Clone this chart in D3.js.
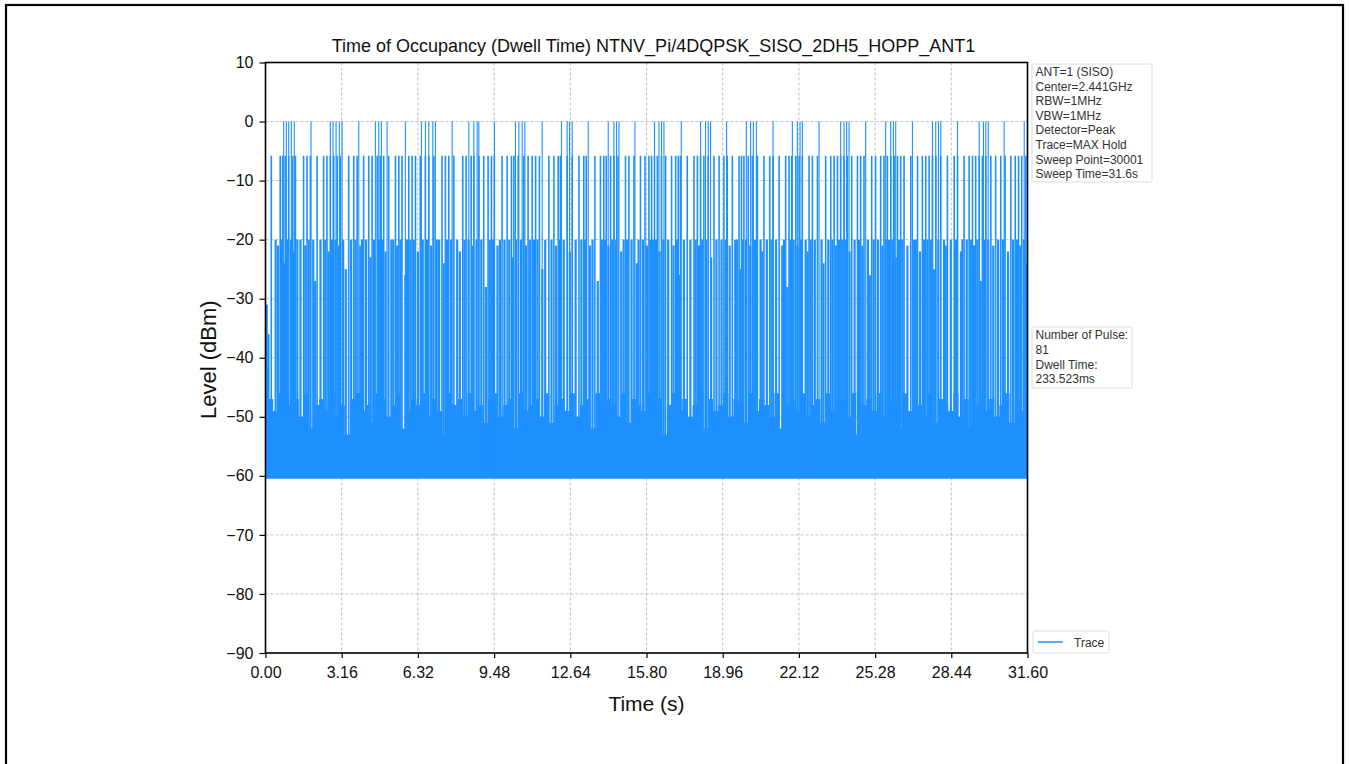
<!DOCTYPE html>
<html><head><meta charset="utf-8">
<script src="https://cdn.jsdelivr.net/npm/d3@7"></script>
<style>body{margin:0;background:#fff}svg{display:block}text{font-family:"Liberation Sans",Arial,sans-serif}</style>
</head><body>
<svg id="c" width="1349" height="764"></svg>
<script>
// ---------------- data ----------------
const title = "Time of Occupancy (Dwell Time) NTNV_Pi/4DQPSK_SISO_2DH5_HOPP_ANT1";
const xTicks = [0, 3.16, 6.32, 9.48, 12.64, 15.80, 18.96, 22.12, 25.28, 28.44, 31.60];
const yTicks = [10, 0, -10, -20, -30, -40, -50, -60, -70, -80, -90];
const infoLines = ["ANT=1 (SISO)", "Center=2.441GHz", "RBW=1MHz", "VBW=1MHz", "Detector=Peak", "Trace=MAX Hold", "Sweep Point=30001", "Sweep Time=31.6s"];
const resultLines = ["Number of Pulse:", "81", "Dwell Time:", "233.523ms"];
// pulses reaching ~0 dBm (s)
const peakTimes = [0.755,0.863,0.963,1.071,1.195,1.888,2.689,2.801,2.927,3.062,3.175,3.868,4.556,4.697,4.805,5.042,5.801,6.465,6.631,6.772,6.938,7.046,7.739,
 8.432,8.640,8.777,8.847,9.495,10.366,10.507,10.644,10.756,11.474,12.275,12.511,12.607,12.719,13.383,14.213,14.449,14.557,14.657,15.321,
 16.134,16.317,16.425,16.524,17.242,18.043,18.250,18.362,18.458,19.122,19.940,20.118,20.230,20.355,21.048,21.849,22.056,22.168,22.264,22.956,
 23.853,23.994,24.102,24.201,24.890,25.720,25.927,26.039,26.135,26.828,27.658,27.795,27.907,28.003,28.696,29.596,29.775,29.870,29.970,30.633,31.464];
const peakLevel = 0;
// pulses reaching ~-6 dBm (s)
const midTimes = [0.24,0.61,0.71,0.82,0.96,1.13,1.24,1.58,1.72,1.86,2.14,2.41,2.55,2.69,2.83,2.97,3.10,3.45,3.66,3.80,4.07,4.28,4.42,4.63,4.76,4.90,5.11,5.39,5.53,5.66,5.94,6.08,6.22,6.42,6.63,6.77,6.98,7.32,7.46,7.60,7.81,
 8.18,8.32,8.53,8.64,8.85,9.05,9.23,9.37,9.49,9.81,10.02,10.20,10.30,10.48,10.71,10.89,11.06,11.20,11.36,11.75,11.96,12.14,12.23,12.51,12.72,13.00,13.20,13.30,13.66,13.89,14.03,14.13,14.31,14.45,14.62,14.93,15.07,15.28,15.55,15.74,
 15.90,16.01,16.13,16.25,16.42,16.59,16.84,17.01,17.12,17.21,17.49,17.77,17.91,18.04,18.18,18.36,18.60,18.81,19.01,19.15,19.36,19.64,19.74,19.84,20.02,20.19,20.40,20.67,20.91,21.05,21.30,21.57,21.71,21.82,21.99,22.13,22.26,22.54,22.68,22.89,23.23,23.44,
 23.58,23.72,23.85,23.99,24.13,24.31,24.55,24.68,24.82,25.14,25.30,25.51,25.65,25.79,25.93,26.07,26.21,26.34,26.48,26.76,27.04,27.24,27.38,27.52,27.66,27.80,28.00,28.28,28.56,28.70,28.97,29.18,29.32,29.45,29.60,29.73,29.87,30.08,30.28,30.49,30.67,30.91,31.09,31.23,31.36,31.53];
const midLevel = -5.8;
// weaker pulses / leakage, [time (s), level (dBm)]
const lowPulses = [[0.05,-31],[0.12,-36],[0.42,-20],[0.52,-21],[0.66,-20],[0.77,-24],[0.89,-20],[1.05,-20],[1.18,-22],[1.32,-20],[1.45,-20],[1.65,-21],[1.79,-20],[1.98,-20],[2.06,-27],
 [2.28,-20],[2.48,-20],[2.62,-22],[2.76,-20],[2.90,-20],[3.04,-21],[3.22,-20],[3.33,-25],[3.55,-20],[3.73,-20],[3.93,-21],[4.00,-20],[4.17,-20],[4.35,-23],[4.50,-20],[4.70,-20],
 [4.83,-20],[4.98,-22],[5.22,-20],[5.30,-20],[5.46,-21],[5.60,-20],[5.80,-26],[5.87,-20],[6.01,-20],[6.15,-20],[6.32,-22],[6.52,-20],[6.70,-20],[6.87,-21],[7.10,-20],[7.20,-20],
 [7.39,-24],[7.53,-20],[7.70,-20],[7.95,-20],[8.06,-22],[8.25,-20],[8.42,-20],[8.58,-21],[8.75,-20],[8.95,-20],[9.14,-28],[9.30,-20],[9.43,-20],[9.62,-21],[9.72,-20],[9.91,-20],
 [10.11,-20],[10.25,-23],[10.39,-20],[10.60,-20],[10.80,-21],[10.97,-20],[11.13,-20],[11.28,-20],[11.48,-25],[11.60,-20],[11.86,-20],[12.05,-21],[12.19,-20],[12.37,-20],[12.62,-22],
 [12.86,-20],[13.10,-20],[13.25,-20],[13.45,-21],[13.56,-20],[13.78,-27],[13.96,-20],[14.08,-20],[14.22,-21],[14.38,-20],[14.54,-20],[14.75,-22],[14.85,-20],[15.00,-20],[15.18,-20],
 [15.40,-24],[15.47,-20],[15.65,-20],[15.82,-21],[15.96,-20],[16.07,-20],[16.19,-20],[16.34,-22],[16.50,-20],[16.70,-20],[16.92,-21],[17.06,-20],[17.16,-26],[17.35,-20],[17.62,-20],
 [17.84,-20],[17.98,-21],[18.11,-20],[18.27,-20],[18.48,-23],[18.70,-20],[18.91,-20],[19.08,-20],[19.25,-21],[19.48,-20],[19.56,-20],[19.69,-25],[19.79,-20],[19.93,-20],[20.10,-21],
 [20.30,-20],[20.53,-20],[20.60,-22],[20.79,-20],[20.98,-20],[21.17,-20],[21.43,-21],[21.50,-20],[21.64,-28],[21.77,-20],[21.90,-20],[22.06,-21],[22.20,-20],[22.40,-20],[22.48,-22],
 [22.61,-20],[22.78,-20],[23.06,-20],[23.14,-24],[23.34,-20],[23.51,-20],[23.65,-21],[23.78,-20],[23.92,-20],[24.06,-20],[24.22,-22],[24.43,-20],[24.61,-20],[24.75,-21],[24.98,-20],
 [25.06,-26],[25.22,-20],[25.40,-20],[25.58,-21],[25.72,-20],[25.86,-20],[26.00,-20],[26.14,-23],[26.27,-20],[26.41,-20],[26.62,-21],[26.90,-20],[26.97,-20],[27.14,-22],[27.31,-20],
 [27.45,-20],[27.59,-20],[27.73,-25],[27.90,-20],[28.14,-20],[28.21,-21],[28.42,-20],[28.63,-20],[28.84,-22],[28.90,-20],[29.08,-20],[29.25,-20],[29.38,-21],[29.52,-20],[29.66,-27],
 [29.80,-20],[29.97,-20],[30.18,-21],[30.38,-20],[30.58,-20],[30.79,-22],[31.00,-20],[31.16,-20],[31.30,-21],[31.45,-20],[31.58,-24]];
// noise-floor upper envelope, one value every 0.2 s (dBm)
const noiseTop = [-42,-47,-49,-46,-51,-48,-47,-50,-46,-52,-48,-47,-49,-46,-50,-48,-53,-47,-46,-49,-48,-51,-46,-47,-50,-48,-46,-52,-49,-47,
 -48,-46,-50,-47,-49,-53,-46,-48,-47,-50,-46,-49,-48,-51,-47,-46,-50,-48,-47,-52,-46,-49,-48,-47,-50,-46,-51,-48,-47,-49,
 -46,-50,-48,-47,-52,-46,-49,-47,-48,-50,-46,-51,-47,-48,-49,-46,-50,-47,-53,-48,-46,-49,-47,-50,-48,-46,-52,-47,-49,-48,
 -46,-50,-47,-48,-51,-46,-49,-47,-48,-50,-46,-52,-48,-47,-49,-46,-50,-48,-47,-51,-46,-49,-48,-47,-50,-46,-53,-48,-47,-49,
 -46,-50,-47,-48,-52,-46,-49,-47,-48,-50,-46,-51,-47,-48,-49,-46,-50,-47,-52,-48,-46,-49,-47,-50,-48,-46,-51,-47,-49,-48];
const noiseBottom = -60.5;

// ---------------- layout ----------------
const svg = d3.select("#c");
const L = 265.5, R = 1027.5, T = 62.5, B = 653;
const x = d3.scaleLinear().domain([0, 31.6]).range([L, R]);
const y = d3.scaleLinear().domain([-90, 10]).range([B, T]);
const blue = "#1E90FF";

svg.append("rect").attr("x", 6).attr("y", 5).attr("width", 1337).attr("height", 800)
  .attr("fill", "none").attr("stroke", "#000").attr("stroke-width", 2.2);

// grid
const grid = svg.append("g");
grid.selectAll(".gx").data(xTicks.slice(1, -1)).join("line")
  .attr("x1", d => x(d)).attr("x2", d => x(d)).attr("y1", T).attr("y2", B)
  .attr("stroke", "#b0b0b0").attr("stroke-width", 0.8).attr("stroke-dasharray", "3,2");
grid.selectAll(".gy").data(yTicks.slice(1, -1)).join("line")
  .attr("y1", d => y(d)).attr("y2", d => y(d)).attr("x1", L).attr("x2", R)
  .attr("stroke", "#b0b0b0").attr("stroke-width", 0.8).attr("stroke-dasharray", "3,2");

const plot = svg.append("g");
// noise floor band
const stepT = 31.6 / (noiseTop.length - 1);
plot.append("path").datum(noiseTop)
  .attr("d", d3.area().x((d, i) => x(i * stepT)).y0(y(noiseBottom)).y1(d => y(d)).curve(d3.curveStep))
  .attr("fill", blue);
// pulses
const floorY = -59.5;
plot.selectAll(".low").data(lowPulses).join("line")
  .attr("x1", d => x(d[0])).attr("x2", d => x(d[0])).attr("y1", y(floorY)).attr("y2", d => y(d[1]))
  .attr("stroke", blue).attr("stroke-width", 2.2);
plot.selectAll(".mid").data(midTimes).join("line")
  .attr("x1", d => x(d)).attr("x2", d => x(d)).attr("y1", y(floorY)).attr("y2", y(midLevel))
  .attr("stroke", blue).attr("stroke-width", 1.6);
plot.selectAll(".pk").data(peakTimes).join("line")
  .attr("x1", d => x(d)).attr("x2", d => x(d)).attr("y1", y(floorY)).attr("y2", y(peakLevel))
  .attr("stroke", blue).attr("stroke-width", 1.1);

// axes
const ax = svg.append("g").attr("transform", `translate(0,${B})`)
  .call(d3.axisBottom(x).tickValues(xTicks).tickFormat(d3.format(".2f")).tickSizeOuter(0).tickSize(5));
const ay = svg.append("g").attr("transform", `translate(${L},0)`)
  .call(d3.axisLeft(y).tickValues(yTicks).tickFormat(d => d < 0 ? "\u2212" + Math.abs(d) : d).tickSizeOuter(0).tickSize(6));
[ax, ay].forEach(g => {
  g.select(".domain").remove();
  g.selectAll("line").attr("stroke", "#000").attr("stroke-width", 1.2);
  g.selectAll("text").attr("font-size", 16).attr("fill", "#111").attr("font-family", "Liberation Sans, Arial");
});
ax.selectAll("text").attr("dy", "0.71em").attr("y", 13.5);
ay.selectAll("text").attr("x", -12);
svg.append("rect").attr("x", L).attr("y", T).attr("width", R - L).attr("height", B - T)
  .attr("fill", "none").attr("stroke", "#000").attr("stroke-width", 1.6);

// labels
svg.append("text").attr("x", (L + R) / 2 + 7).attr("y", 51.5).attr("text-anchor", "middle")
  .attr("font-size", 18).attr("fill", "#111").text(title);
svg.append("text").attr("x", (L + R) / 2).attr("y", 711).attr("text-anchor", "middle")
  .attr("font-size", 21).attr("fill", "#111").text("Time (s)");
svg.append("text").attr("transform", `translate(216,${(T + B) / 2 + 2}) rotate(-90)`).attr("text-anchor", "middle")
  .attr("font-size", 22).attr("fill", "#111").text("Level (dBm)");

// info boxes
function box(x0, y0, w, h, lines, lh) {
  svg.append("rect").attr("x", x0).attr("y", y0).attr("width", w).attr("height", h)
    .attr("fill", "#fff").attr("fill-opacity", 0.8).attr("stroke", "#dcdcdc").attr("stroke-width", 1).attr("rx", 1.5);
  svg.append("g").selectAll("text").data(lines).join("text")
    .attr("x", x0 + 3.5).attr("y", (d, i) => y0 + 12 + i * lh)
    .attr("font-size", 12).attr("fill", "#333").text(d => d);
}
box(1032, 64, 120, 118, infoLines, 14.6);
box(1032, 327, 100, 61, resultLines, 14.8);

// legend
svg.append("rect").attr("x", 1033).attr("y", 631).attr("width", 76).attr("height", 22)
  .attr("fill", "#fff").attr("stroke", "#dcdcdc").attr("stroke-width", 1).attr("rx", 2);
svg.append("line").attr("x1", 1038).attr("x2", 1063).attr("y1", 642).attr("y2", 642).attr("stroke", blue).attr("stroke-width", 1.5);
svg.append("text").attr("x", 1074).attr("y", 646.5).attr("font-size", 12).attr("fill", "#333").text("Trace");
</script>
</body></html>
